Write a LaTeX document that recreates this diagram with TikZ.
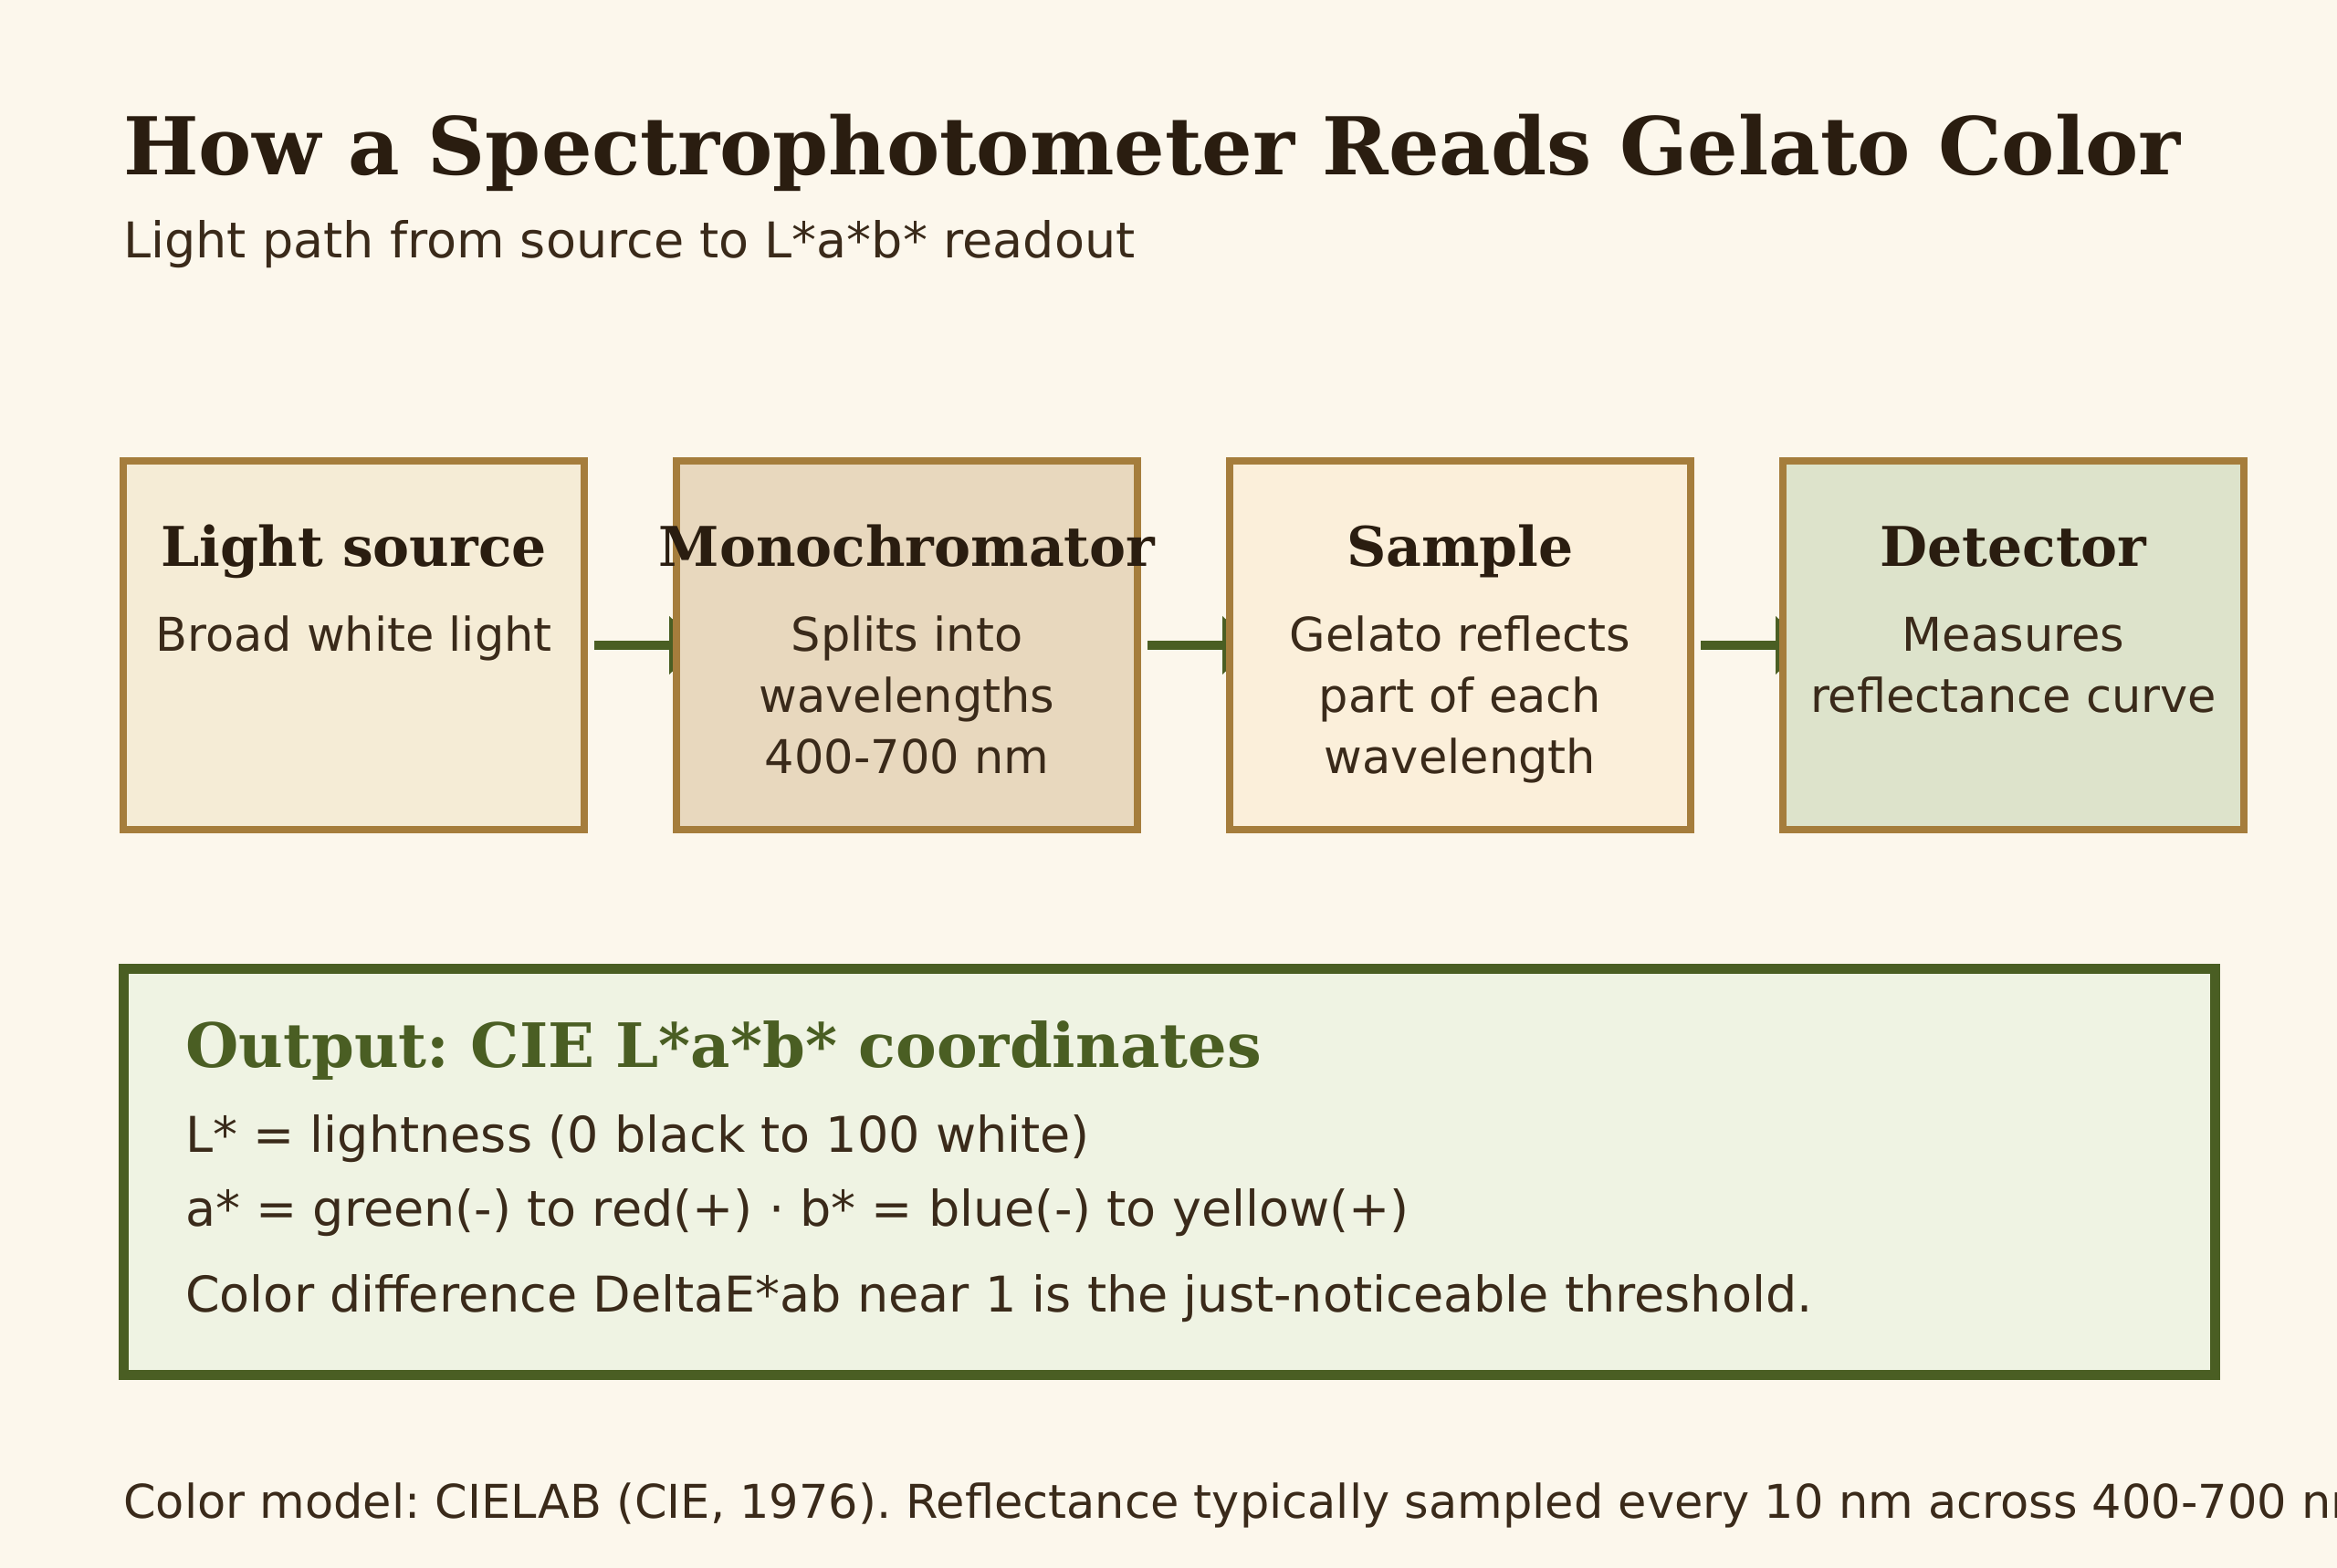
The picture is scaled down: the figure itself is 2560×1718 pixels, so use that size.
\documentclass[tikz,border=0pt]{standalone}
\usepackage{fontspec}
\setmainfont{DejaVu Sans}
\newfontfamily\serifbold{DejaVu Serif}
\frenchspacing
\usetikzlibrary{arrows.meta}
\definecolor{pagebg}{HTML}{FCF7EC}
\definecolor{fillA}{HTML}{F5ECD6}
\definecolor{fillB}{HTML}{E8D8BE}
\definecolor{fillC}{HTML}{FBEFDA}
\definecolor{fillD}{HTML}{DDE3CB}
\definecolor{boxborder}{HTML}{A57D3C}
\definecolor{olive}{HTML}{4A5E23}
\definecolor{outfill}{HTML}{EFF3E3}
\definecolor{darktext}{HTML}{2A1D10}
\definecolor{bodytext}{HTML}{3A2A1A}
\pgfdeclarelayer{background}
\pgfsetlayers{background,main}
\tikzset{
  stagebox/.style={draw=boxborder, line width=7.5pt, minimum width=505pt, minimum height=404pt, anchor=north west, inner sep=0pt, outer sep=0pt},
  stagetitle/.style={anchor=base, text=darktext, font=\serifbold\bfseries\fontsize{60}{70}\selectfont, inner sep=0pt},
  stagetext/.style={anchor=base, text=bodytext, align=center, font=\fontsize{51}{67}\selectfont, inner sep=0pt},
  flowarrow/.style={draw=olive, line width=9.5pt, -{Triangle[length=34pt,width=62pt]}, shorten <=11pt, shorten >=-26pt},
  outtext/.style={anchor=base west, text=bodytext, font=\fontsize{54}{60}\selectfont, inner sep=0pt},
}
\begin{document}
\begin{tikzpicture}[x=1pt,y=-1pt]
\begin{pgfonlayer}{background}
\fill[pagebg] (0,0) rectangle (2560,1718);
\end{pgfonlayer}
\useasboundingbox (0,0) rectangle (2560,1718);
\clip (0,0) rectangle (2560,1718);

\node[anchor=base west, inner sep=0pt, text=darktext, font=\serifbold\bfseries\fontsize{87.4}{100}\selectfont] (title) at (135,191) {How a Spectrophotometer Reads Gelato Color};
\node[anchor=base west, inner sep=0pt, text=bodytext, font=\fontsize{54}{60}\selectfont] (subtitle) at (135,282) {Light path from source to L*a*b* readout};

\node[stagebox, fill=fillA] (b1) at (135,505) {};
\node[stagebox, fill=fillB] (b2) at (741,505) {};
\node[stagebox, fill=fillC] (b3) at (1347,505) {};
\node[stagebox, fill=fillD] (b4) at (1953,505) {};

\node[stagetitle] (t1) at (387.5,620) {Light source};
\node[stagetitle] (t2) at (993.5,620) {Monochromator};
\node[stagetitle] (t3) at (1599.5,620) {Sample};
\node[stagetitle] (t4) at (2205.5,620) {Detector};

\node[stagetext] (d1) at (387.5,713) {Broad white light};
\node[stagetext] (d2) at (993.5,847) {Splits into\\wavelengths\\400-700 nm};
\node[stagetext] (d3) at (1599.5,847) {Gelato reflects\\part of each\\wavelength};
\node[stagetext] (d4) at (2205.5,780) {Measures\\reflectance curve};

\begin{pgfonlayer}{background}
\draw[flowarrow] (b1.east |- 0,707) -- (b2.west |- 0,707);
\draw[flowarrow] (b2.east |- 0,707) -- (b3.west |- 0,707);
\draw[flowarrow] (b3.east |- 0,707) -- (b4.west |- 0,707);
\end{pgfonlayer}

\node[draw=olive, fill=outfill, line width=11pt, anchor=north west, minimum width=2291pt, minimum height=445pt, inner sep=0pt, outer sep=0pt] (out) at (135,1061) {};
\node[anchor=base west, inner sep=0pt, text=olive, font=\serifbold\bfseries\fontsize{67}{70}\selectfont] (outtitle) at (203,1169) {Output: CIE L*a*b* coordinates};
\node[outtext] (o1) at (203,1262) {L* = lightness (0 black to 100 white)};
\node[outtext] (o2) at (203,1343) {a* = green(-) to red(+) · b* = blue(-) to yellow(+)};
\node[outtext] (o3) at (203,1437) {Color difference DeltaE*ab near 1 is the just-noticeable threshold.};

\node[anchor=base west, inner sep=0pt, text=bodytext, font=\fontsize{51}{60}\selectfont] (footer) at (135,1663) {Color model: CIELAB (CIE, 1976). Reflectance typically sampled every 10 nm across 400-700 nm.};
\end{tikzpicture}
\end{document}
